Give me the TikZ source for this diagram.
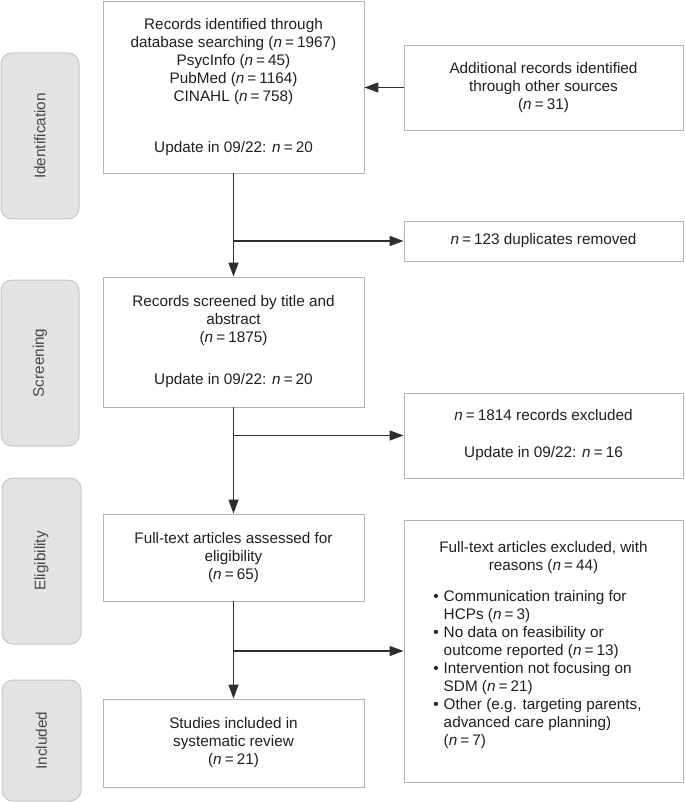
\documentclass[tikz,border=0pt]{standalone}
\usepackage{fontspec}
\setmainfont{Liberation Sans}
\usetikzlibrary{arrows.meta}
\newcommand\nv[1]{\textit{n}\hspace{0.2em}=\hspace{0.2em}#1}
\begin{document}
\begin{tikzpicture}[x=1pt,y=-1pt,
 txt/.style={align=center,inner sep=0pt,text=black!88,font=\fontsize{15.3}{18}\selectfont},
 box/.style={txt,draw=black!30,line width=0.9pt},
 phase/.style={txt,draw=black!22,fill=black!11,rounded corners=11pt,line width=1pt,text=black!72,rotate=90},
 flow/.style={draw=black!82,line width=1.4pt,-{Triangle[length=14pt,width=10pt]}}]
\useasboundingbox (0,0) rectangle (685,802);
% phases
\node[phase,minimum width=166pt,minimum height=78pt] (ident) at (40,136) {Identification};
\node[phase,minimum width=166pt,minimum height=78pt] (screen) at (40,363) {Screening};
\node[phase,minimum width=166pt,minimum height=79pt] (elig) at (41.5,561) {Eligibility};
\node[phase,minimum width=121pt,minimum height=79pt] (incl) at (41.5,740.5) {Included};
% main column
\node[box,minimum width=261pt,minimum height=172pt] (rec) at (233.5,87)
 {Records identified through\\ database searching (\nv{1967})\\ PsycInfo (\nv{45})\\ PubMed (\nv{1164})\\ CINAHL (\nv{758})\\[33pt] Update in 09/22: \nv{20}};
\node[box,minimum width=261pt,minimum height=130pt] (scr) at (233.5,342)
 {Records screened by title and\\ abstract\\ (\nv{1875})\\[24pt] Update in 09/22: \nv{20}};
\node[box,minimum width=261pt,minimum height=87pt] (full) at (233.5,557.5)
 {Full-text articles assessed for\\ eligibility\\ (\nv{65})};
\node[box,minimum width=261pt,minimum height=88pt] (study) at (233.5,743)
 {Studies included in\\ systematic review\\ (\nv{21})};
% right column
\node[box,minimum width=279pt,minimum height=85pt] (other) at (543.5,87.5)
 {Additional records identified\\ through other sources\\ (\nv{31})};
\node[box,minimum width=279pt,minimum height=40pt] (dup) at (543.5,241)
 {\nv{123} duplicates removed};
\node[box,minimum width=279pt,minimum height=85pt] (excl) at (543.5,435.5)
 {\nv{1814} records excluded\\[19pt] Update in 09/22: \nv{16}};
\node[box,minimum width=279pt,minimum height=262pt] (why) at (543.5,651) {};
\node[txt,yshift=5pt] (whytext) at (why)
 {Full-text articles excluded, with\\ reasons (\nv{44})\\[14pt]
 \hspace*{-12pt}\begin{tabular}{@{}l@{\hspace{5pt}}l@{}}
 \textbullet & Communication training for\\ & HCPs (\nv{3})\\
 \textbullet & No data on feasibility or\\ & outcome reported (\nv{13})\\
 \textbullet & Intervention not focusing on\\ & SDM (\nv{21})\\
 \textbullet & Other (e.g. targeting parents,\\ & advanced care planning)\\ & (\nv{7})
 \end{tabular}};
% connectors
\draw[flow] (other.west) -- (other.west -| rec.east);
\draw[flow] (rec.south) -- (scr.north);
\draw[flow] (rec.south |- dup.west) -- (dup.west);
\draw[flow] (scr.south) -- (full.north);
\draw[flow] (scr.south |- excl.west) -- (excl.west);
\draw[flow] (full.south) -- (study.north);
\draw[flow] (full.south |- why.west) -- (why.west);
\end{tikzpicture}
\end{document}
